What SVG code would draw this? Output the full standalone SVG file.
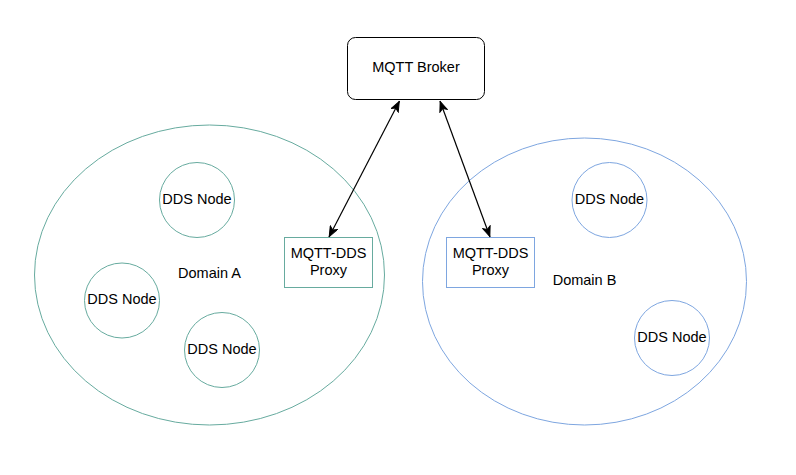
<svg xmlns="http://www.w3.org/2000/svg" width="796" height="475" viewBox="0 0 796 475">
<style>
  text { font-family: "Liberation Sans", Arial, sans-serif; font-size: 14.5px; fill: #000; text-anchor: middle; }
  .ga { fill: #fff; stroke: #67AB9F; stroke-width: 1; }
  .gb { fill: #fff; stroke: #7EA6E0; stroke-width: 1; }
  .dom-a { fill: none; stroke: #67AB9F; stroke-width: 1; }
  .dom-b { fill: none; stroke: #7EA6E0; stroke-width: 1; }
  .edge { fill: none; stroke: #000; stroke-width: 1.2; }
</style>
<defs>
  <marker id="arr" viewBox="0 0 11 9" refX="11" refY="4.5" markerWidth="11" markerHeight="9" markerUnits="userSpaceOnUse" orient="auto-start-reverse">
    <path d="M0.5,0.5 L10.5,4.5 L0.5,8.5 L3,4.5 Z" fill="#000" stroke="#000" stroke-width="1"/>
  </marker>
</defs>
<rect width="796" height="475" fill="#fff"/>
<g id="domain-a">
  <ellipse class="dom-a" cx="209.5" cy="275" rx="175" ry="150"/>
  <text x="209.5" y="278">Domain A</text>
</g>
<g id="domain-b">
  <ellipse class="dom-b" cx="584.5" cy="281.5" rx="162" ry="143.5"/>
  <text x="584.5" y="285">Domain B</text>
</g>
<g id="broker">
  <rect x="347.5" y="37.5" width="137" height="62" rx="8" ry="8" fill="#fff" stroke="#000" stroke-width="1"/>
  <text x="416" y="72">MQTT Broker</text>
</g>
<g id="node-a1">
  <circle class="ga" cx="197" cy="200" r="37.5"/>
  <text x="197" y="203.5">DDS Node</text>
</g>
<g id="node-a2">
  <circle class="ga" cx="122" cy="300.5" r="37.5"/>
  <text x="122" y="304">DDS Node</text>
</g>
<g id="node-a3">
  <circle class="ga" cx="222" cy="350" r="37.5"/>
  <text x="222" y="353.5">DDS Node</text>
</g>
<g id="proxy-a">
  <rect class="ga" x="284.5" y="237.5" width="88" height="50"/>
  <text x="328.5" y="257.5">MQTT-DDS</text>
  <text x="328.5" y="275">Proxy</text>
</g>
<g id="proxy-b">
  <rect class="gb" x="446.5" y="237.5" width="88" height="50"/>
  <text x="490.5" y="257.5">MQTT-DDS</text>
  <text x="490.5" y="275">Proxy</text>
</g>
<g id="node-b1">
  <circle class="gb" cx="609.5" cy="200" r="37.5"/>
  <text x="609.5" y="203.5">DDS Node</text>
</g>
<g id="node-b2">
  <circle class="gb" cx="672" cy="338" r="37.5"/>
  <text x="672" y="341.5">DDS Node</text>
</g>
<g id="connectors">
  <line class="edge" x1="399.5" y1="101" x2="329" y2="237" marker-start="url(#arr)" marker-end="url(#arr)"/>
  <line class="edge" x1="440" y1="101" x2="490" y2="237" marker-start="url(#arr)" marker-end="url(#arr)"/>
</g>
</svg>
